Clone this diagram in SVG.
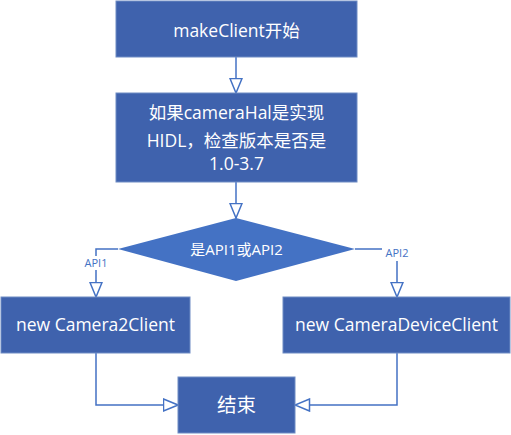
<svg xmlns="http://www.w3.org/2000/svg" width="511" height="435" viewBox="0 0 511 435">
<style>
.box{fill:#3f62ad;stroke:#6f8cc4;stroke-width:1}
.dia{fill:#4472c4;stroke:none}
.t{font-family:"Open Sans","Noto Sans CJK SC",sans-serif;font-size:17.5px;fill:#ffffff;text-anchor:middle}
.c{fill:none;stroke:#4472c4;stroke-width:1.5}
.lbl{font-family:"Open Sans","Noto Sans",sans-serif;font-size:11px;fill:#4472c4;text-anchor:middle}
.lb{fill:#ffffff}
</style>
<defs>
<marker id="ah" viewBox="0 0 16 14" refX="15.5" refY="7" markerWidth="16" markerHeight="14" markerUnits="userSpaceOnUse" orient="auto">
<path d="M1,1 L15.5,7 L1,13 Z" fill="#ffffff" stroke="#4472c4" stroke-width="1.5"/>
</marker>
</defs>
<rect width="511" height="435" fill="#ffffff"/>
<g id="connectors">
<path class="c" d="M236,57 V93" marker-end="url(#ah)"/>
<path class="c" d="M236,182 V218" marker-end="url(#ah)"/>
<path class="c" d="M118,249 H96 V297" marker-end="url(#ah)"/>
<path class="c" d="M355,249 H397 V297" marker-end="url(#ah)"/>
<path class="c" d="M96,353 V405 H178" marker-end="url(#ah)"/>
<path class="c" d="M397,353 V405 H295" marker-end="url(#ah)"/>
<rect class="lb" x="81" y="256" width="30" height="14"/>
<text class="lbl" x="96" y="267">API1</text>
<rect class="lb" x="382" y="246" width="30" height="15"/>
<text class="lbl" x="397" y="257">API2</text>
</g>
<g id="start">
<rect class="box" x="116" y="1" width="241" height="56"/>
<text class="t" x="236.5" y="37">makeClient开始</text>
</g>
<g id="check">
<rect class="box" x="116" y="93" width="241" height="89"/>
<text class="t" x="236.5" y="119">如果cameraHal是实现</text>
<text class="t" x="236.5" y="147">HIDL，检查版本是否是</text>
<text class="t" x="236.5" y="170">1.0-3.7</text>
</g>
<g id="decision">
<polygon class="dia" points="236,218 355,249 236,281 118,249"/>
<text class="t" x="236.5" y="255" style="font-size:15px">是API1或API2</text>
</g>
<g id="camera2client">
<rect class="box" x="1" y="297" width="189" height="56"/>
<text class="t" x="95.5" y="331">new Camera2Client</text>
</g>
<g id="cameradeviceclient">
<rect class="box" x="283" y="297" width="227" height="56"/>
<text class="t" x="396.5" y="331">new CameraDeviceClient</text>
</g>
<g id="end">
<rect class="box" x="178" y="377" width="117" height="56"/>
<text class="t" x="236.5" y="412" style="font-size:19.5px">结束</text>
</g>
</svg>
